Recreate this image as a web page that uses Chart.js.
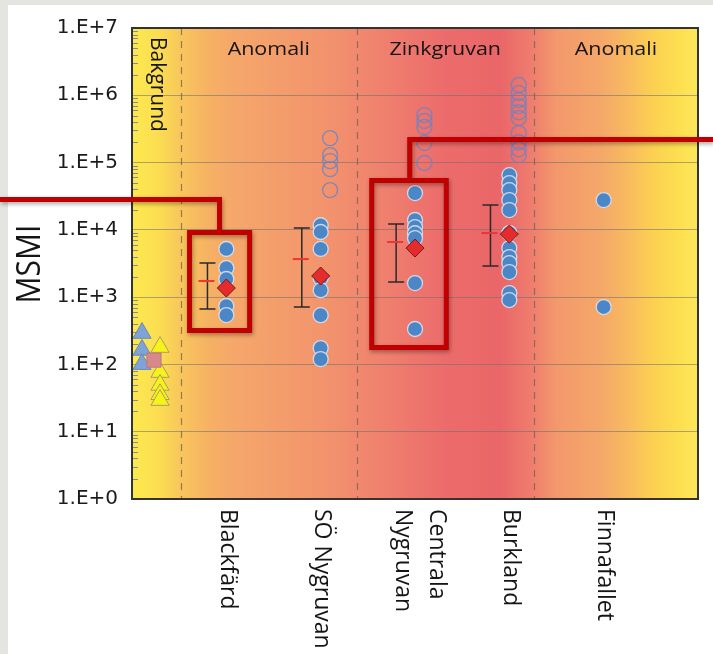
<!DOCTYPE html>
<html>
<head>
<meta charset="utf-8">
<script src="https://cdn.jsdelivr.net/npm/chart.js@4.4.0/dist/chart.umd.min.js"></script>
<style>
  html, body { margin: 0; padding: 0; background: #e4e4e1; }
  #wrap { width: 713px; height: 654px; }
</style>
</head>
<body>
<div id="wrap"><canvas id="msmi-chart" width="713" height="654"></canvas></div>
<script>
// sites along x (1..5), Bakgrund sits at 0
const siteLabels = [['Blackfärd'], ['SÖ Nygruvan'], ['Centrala', 'Nygruvan'], ['Burkland'], ['Finnafallet']];
const zoneNames = ['Bakgrund', 'Anomali', 'Zinkgruvan', 'Anomali'];
const zoneEdges = [0, 0.52, 2.38, 4.26, 6];
const yTicks = [1, 10, 100, 1e3, 1e4, 1e5, 1e6, 1e7];

// MSMI per sample, one list per site
const filledValues = [
    [5190, 2710, 1860, 738, 542],
    [11700, 9300, 5200, 1920, 1270, 540, 175, 120],
    [35200, 14000, 11000, 8900, 7550, 1620, 336],
    [65000, 49600, 39000, 27700, 19700, 8960, 5370, 3940, 3210, 2360, 1150, 906],
    [27700, 713],
];
const openValues = [
    [],
    [231000, 129000, 105000, 80000, 39000],
    [508000, 414000, 337000, 195000, 98400],
    [1420000, 1080000, 850000, 690000, 560000, 460000, 274000, 200000, 158000, 129000],
    [],
];
const geoMean = [1365, 2060, 5360, 8650, null];
const ariMean = [1740, 3680, 6600, 8960, null];
const errLow = [665, 713, 1675, 2900, null];
const errHigh = [3220, 10640, 12200, 23400, null];

// background samples
const bgBlue = [293, 164, 101];
const bgPink = [116];
const bgYellow = [181, 77, 49.5, 36, 29.5];

// red call-out boxes: [xFrom, xTo, yLow, yHigh], stem x, leader y
const callouts = [
    { box: [0.61, 1.247, 319, 9120], stemX: 0.928, lineY: 28200, toward: 'left' },
    { box: [2.541, 3.332, 178, 54100], stemX: 2.944, lineY: 220000, toward: 'right' },
];

const pts = (vals, x) => vals.map(v => ({ x: x, y: v }));

const decor = {
    id: 'decor',
    beforeDraw(chart) {
        const { ctx, chartArea: a, width, height } = chart;
        ctx.save();
        ctx.fillStyle = '#e4e4e1';
        ctx.fillRect(0, 0, width, height);
        ctx.fillStyle = '#ffffff';
        ctx.fillRect(8, 5, width - 8, height - 5);
        const g = ctx.createLinearGradient(a.left, 0, a.right, 0);
        [[0, '#fde94f'], [0.05, '#fbdc52'], [0.09, '#f8c45c'], [0.14, '#f6b064'], [0.18, '#f5a76a'],
         [0.35, '#f2926d'], [0.45, '#ef7f6e'], [0.55, '#ec6c6b'], [0.65, '#ea6668'], [0.70, '#ee7a6d'],
         [0.75, '#f3986c'], [0.83, '#f5a869'], [0.88, '#f8bc5e'], [0.92, '#fcd052'], [0.97, '#fde050'],
         [1, '#fde65c']].forEach(s => g.addColorStop(s[0], s[1]));
        ctx.fillStyle = g;
        ctx.fillRect(a.left, a.top, a.width, a.height);
        ctx.restore();
    },
    beforeDatasetsDraw(chart) {
        const { ctx, chartArea: a, scales: { x, y } } = chart;
        ctx.save();
        // zone separators
        ctx.strokeStyle = 'rgba(115,95,85,0.75)';
        ctx.lineWidth = 1.2;
        ctx.setLineDash([7, 6]);
        zoneEdges.slice(1, -1).forEach(e => {
            const px = Math.round(x.getPixelForValue(e)) + 0.5;
            ctx.beginPath();
            ctx.moveTo(px, a.top);
            ctx.lineTo(px, a.bottom);
            ctx.stroke();
        });
        ctx.setLineDash([]);
        // minor ticks on the log axis
        ctx.strokeStyle = '#8a8a8a';
        ctx.lineWidth = 1;
        for (let d = 0; d < 7; d++) {
            for (let m = 2; m < 10; m++) {
                const py = Math.round(y.getPixelForValue(m * Math.pow(10, d))) + 0.5;
                ctx.beginPath();
                ctx.moveTo(a.left, py);
                ctx.lineTo(a.left + 6, py);
                ctx.stroke();
            }
        }
        // error bars and arithmetic means
        errLow.forEach((lo, i) => {
            if (lo == null) return;
            const px = x.getPixelForValue(i + 1 - 0.2);
            const top = y.getPixelForValue(errHigh[i]);
            const bot = y.getPixelForValue(lo);
            ctx.strokeStyle = '#2a2a2a';
            ctx.lineWidth = 1.5;
            ctx.beginPath();
            ctx.moveTo(px, top); ctx.lineTo(px, bot);
            ctx.moveTo(px - 8, top); ctx.lineTo(px + 8, top);
            ctx.moveTo(px - 8, bot); ctx.lineTo(px + 8, bot);
            ctx.stroke();
            const pm = y.getPixelForValue(ariMean[i]);
            ctx.strokeStyle = '#ee3535';
            ctx.lineWidth = 2;
            ctx.beginPath();
            ctx.moveTo(px - 9, pm); ctx.lineTo(px + 7, pm);
            ctx.stroke();
        });
        ctx.restore();
    },
    afterDraw(chart) {
        const { ctx, chartArea: a, scales: { x, y } } = chart;
        ctx.save();
        // plot frame
        ctx.strokeStyle = '#333333';
        ctx.lineWidth = 2;
        ctx.strokeRect(a.left, a.top, a.width, a.height);

        ctx.fillStyle = '#151515';
        // axis title
        ctx.save();
        ctx.translate(31, 264);
        ctx.rotate(-Math.PI / 2);
        ctx.scale(1, 1.1);
        ctx.font = '30px "Open Sans"';
        ctx.textAlign = 'center';
        ctx.textBaseline = 'middle';
        ctx.fillText('MSMI', 0, 0);
        ctx.restore();

        // site names, read top to bottom
        ctx.font = '23px "Open Sans"';
        ctx.textAlign = 'left';
        ctx.textBaseline = 'middle';
        siteLabels.forEach((lines, i) => {
            const shift = lines.length > 1 ? 5 : 1;
            ctx.save();
            ctx.translate(x.getPixelForValue(i + 1) + shift, a.bottom + 10);
            ctx.rotate(Math.PI / 2);
            lines.forEach((t, k) => ctx.fillText(t, 0, (k - (lines.length - 1) / 2) * 34));
            ctx.restore();
        });

        // zone names
        zoneNames.forEach((name, i) => {
            const cx = x.getPixelForValue((zoneEdges[i] + zoneEdges[i + 1]) / 2);
            ctx.save();
            if (i === 0) {
                ctx.translate(cx, a.top + 9);
                ctx.rotate(Math.PI / 2);
                ctx.font = '21px "Open Sans"';
                ctx.textAlign = 'left';
                ctx.textBaseline = 'middle';
                ctx.fillText(name, 0, 0);
            } else {
                ctx.translate(cx, a.top + 27);
                ctx.scale(1.13, 1);
                ctx.font = '19px "Open Sans"';
                ctx.textAlign = 'center';
                ctx.textBaseline = 'alphabetic';
                ctx.fillText(name, 0, 0);
            }
            ctx.restore();
        });

        // call-outs
        ctx.strokeStyle = '#c00000';
        ctx.lineWidth = 5;
        ctx.lineJoin = 'miter';
        ctx.shadowColor = 'rgba(0,0,0,0.35)';
        ctx.shadowBlur = 4;
        ctx.shadowOffsetX = 1;
        ctx.shadowOffsetY = 2;
        callouts.forEach(c => {
            const L = x.getPixelForValue(c.box[0]);
            const R = x.getPixelForValue(c.box[1]);
            const B = y.getPixelForValue(c.box[2]);
            const T = y.getPixelForValue(c.box[3]);
            const sx = x.getPixelForValue(c.stemX);
            const ly = y.getPixelForValue(c.lineY);
            ctx.beginPath();
            ctx.rect(L, T, R - L, B - T);
            ctx.moveTo(sx, T);
            ctx.lineTo(sx, ly);
            ctx.lineTo(c.toward === 'left' ? 0 : chart.width, ly);
            ctx.stroke();
        });
        ctx.restore();
    }
};

new Chart(document.getElementById('msmi-chart'), {
    type: 'scatter',
    data: {
        datasets: [
            {
                label: 'Geometriskt medel',
                data: geoMean.map((v, i) => v == null ? null : { x: i + 1, y: v }).filter(Boolean),
                pointStyle: 'rectRot',
                radius: 9,
                backgroundColor: '#e52b2b',
                borderColor: '#6e1a1a',
                borderWidth: 1,
            },
            {
                label: 'Prov',
                data: filledValues.flatMap((vals, i) => pts(vals, i + 1)),
                pointStyle: 'circle',
                radius: 7.5,
                backgroundColor: '#4b86c7',
                borderColor: 'rgba(215,225,240,0.9)',
                borderWidth: 1.3,
            },
            {
                label: 'Prov (öppen)',
                data: openValues.flatMap((vals, i) => pts(vals, i + 1.1)),
                pointStyle: 'circle',
                radius: 7.5,
                backgroundColor: 'rgba(0,0,0,0)',
                borderColor: 'rgba(110,130,195,0.8)',
                borderWidth: 1.4,
            },
            {
                label: 'Bakgrund rosa',
                data: pts(bgPink, 0.233),
                pointStyle: 'rect',
                radius: 10,
                backgroundColor: '#d8888c',
                borderColor: '#b8787c',
                borderWidth: 1,
            },
            {
                label: 'Bakgrund blå',
                data: pts(bgBlue, 0.106),
                pointStyle: 'triangle',
                radius: 10.5,
                backgroundColor: '#7fa3d6',
                borderColor: '#6a88b8',
                borderWidth: 1,
            },
            {
                label: 'Bakgrund gul',
                data: pts(bgYellow, 0.297),
                pointStyle: 'triangle',
                radius: 10.5,
                backgroundColor: '#f6f21c',
                borderColor: '#a9a060',
                borderWidth: 1,
            },
        ]
    },
    options: {
        responsive: false,
        devicePixelRatio: 1,
        animation: false,
        layout: { padding: { top: 28, right: 15, bottom: 155, left: 0 } },
        plugins: {
            legend: { display: false },
            tooltip: { enabled: false },
        },
        scales: {
            x: {
                type: 'linear',
                min: 0,
                max: 6,
                ticks: { display: false },
                grid: { display: false },
                border: { display: false },
                afterFit: s => { s.height = 0; },
            },
            y: {
                type: 'logarithmic',
                min: 1,
                max: 1e7,
                afterBuildTicks: s => { s.ticks = yTicks.map(v => ({ value: v })); },
                afterFit: s => { s.width = 132; },
                ticks: {
                    callback: v => '1.E+' + Math.round(Math.log10(v)),
                    font: { family: 'DejaVu Sans', size: 20 },
                    color: '#1b1b1b',
                    padding: 14,
                    autoSkip: false,
                },
                grid: { color: 'rgba(110,110,110,0.55)', lineWidth: 1, drawTicks: false },
                border: { display: false },
            },
        },
    },
    plugins: [decor],
});
</script>
</body>
</html>
